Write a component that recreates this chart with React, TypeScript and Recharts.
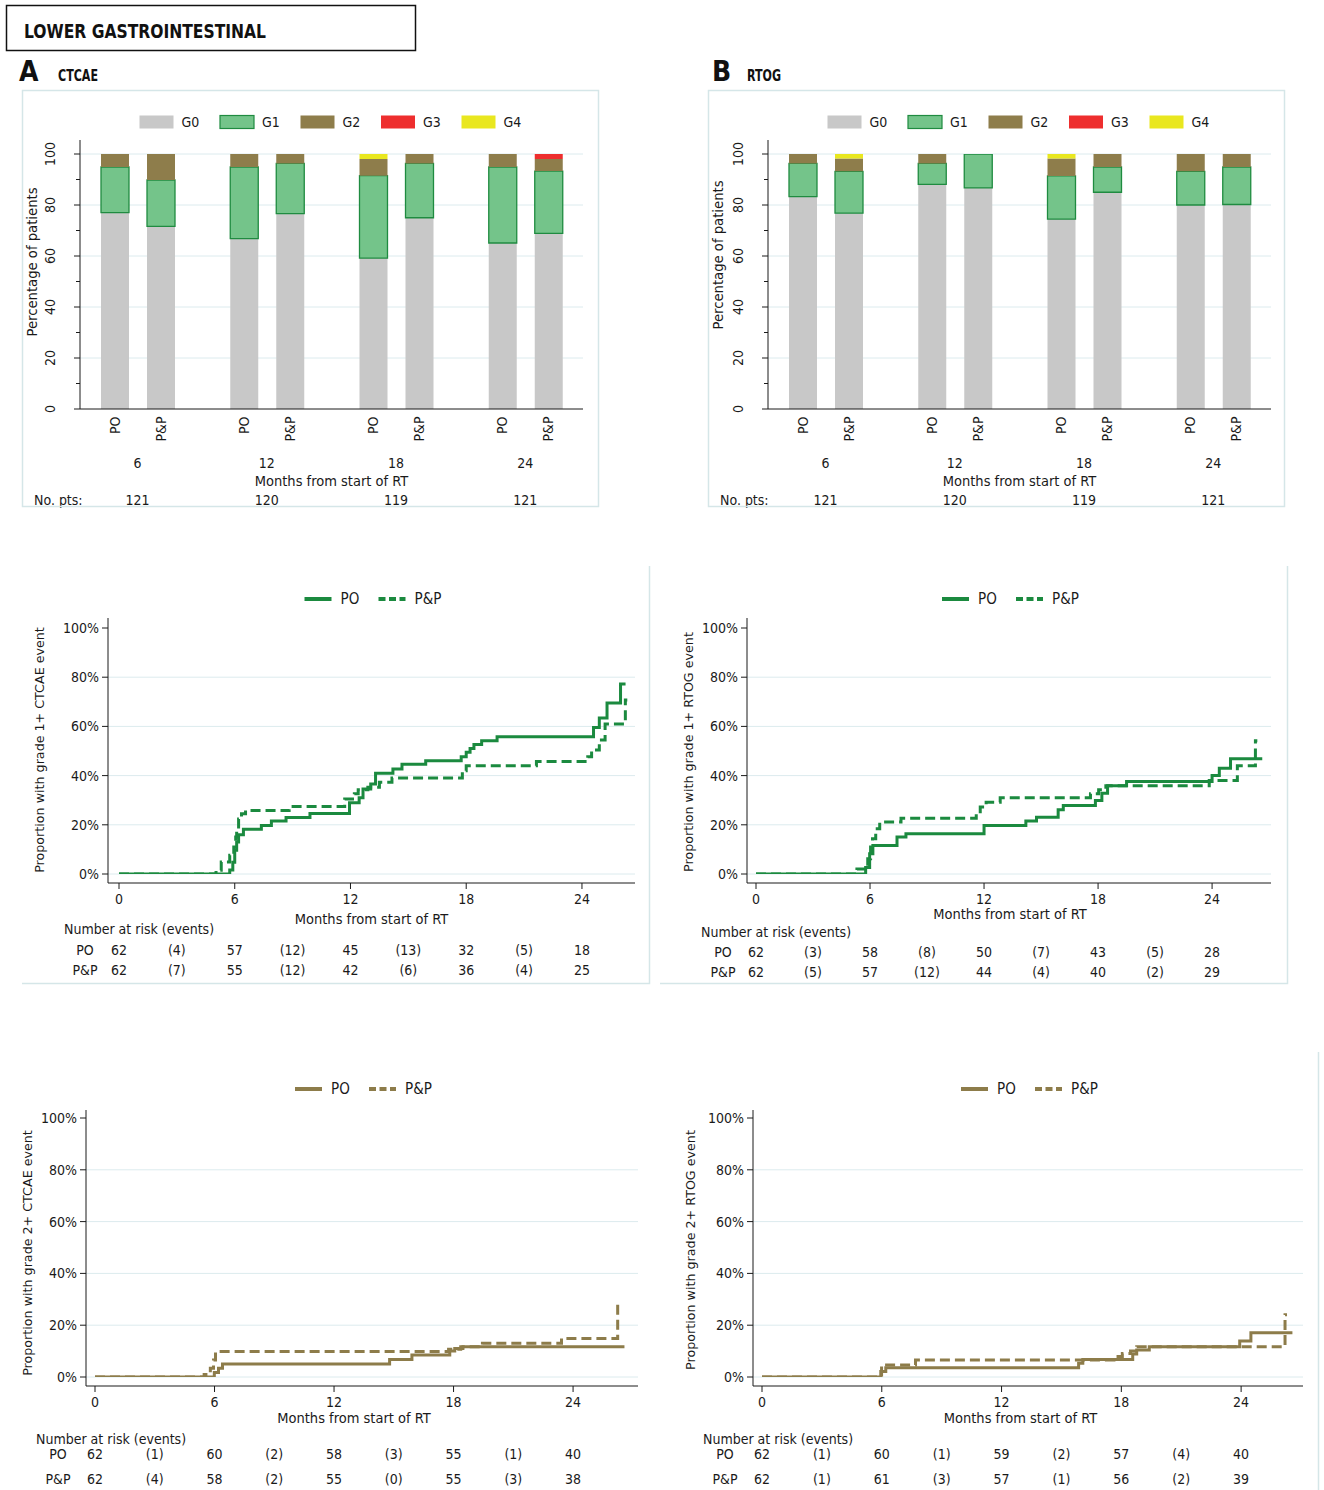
import React from "react";
import { Bar, BarChart, CartesianGrid, Legend, Line, LineChart, XAxis, YAxis } from "recharts";

const COND = '"Liberation Sans Narrow", "DejaVu Sans Condensed", "Arial Narrow", sans-serif';
const PLAIN = '"DejaVu Sans", "Open Sans", sans-serif';
const INK = "#1a1a1a";
const GRID = "#dcebee";
const FRAME = "#d5e6e8";
const GREEN = "#1b8a3f";
const OLIVE = "#8d7c4a";
const G1_EDGE = "#1f8b40";
const GRADE_COLORS = ["#c8c8c8", "#74c48a", "#8e7d4b", "#ee2e2e", "#e9e71f"];

const GRADES = ["G0", "G1", "G2", "G3", "G4"];
const ARMS = ["PO", "P&P"];
const MONTHS = ["6", "12", "18", "24"];
const NO_PTS = [121, 120, 119, 121];

// % of patients by worst grade at each visit
const CTCAE_PO_G0 = [77.0, 66.8, 59.2, 65.1];
const CTCAE_PO_G1 = [17.9, 28.1, 32.3, 29.8];
const CTCAE_PO_G2 = [5.1, 5.1, 6.5, 5.1];
const CTCAE_PO_G3 = [0, 0, 0, 0];
const CTCAE_PO_G4 = [0, 0, 2.0, 0];
const CTCAE_PP_G0 = [71.6, 76.6, 75.0, 68.9];
const CTCAE_PP_G1 = [18.2, 19.7, 21.3, 24.4];
const CTCAE_PP_G2 = [10.2, 3.7, 3.7, 4.7];
const CTCAE_PP_G3 = [0, 0, 0, 2.0];
const CTCAE_PP_G4 = [0, 0, 0, 0];

const RTOG_PO_G0 = [83.3, 88.1, 74.5, 80.0];
const RTOG_PO_G1 = [13.0, 8.2, 16.9, 13.2];
const RTOG_PO_G2 = [3.7, 3.7, 6.8, 6.8];
const RTOG_PO_G3 = [0, 0, 0, 0];
const RTOG_PO_G4 = [0, 0, 1.8, 0];
const RTOG_PP_G0 = [76.8, 86.7, 85.0, 80.2];
const RTOG_PP_G1 = [16.4, 13.3, 9.9, 14.7];
const RTOG_PP_G2 = [5.0, 0, 5.1, 5.1];
const RTOG_PP_G3 = [0, 0, 0, 0];
const RTOG_PP_G4 = [1.8, 0, 0, 0];

type Pt = { t: number; p: number };

// cumulative incidence, grade 1+ CTCAE
const G1_CTCAE_PO: Pt[] = [
  { t: 0, p: 0 }, { t: 5.74, p: 1.6 }, { t: 5.9, p: 4.8 }, { t: 6.0, p: 9.7 }, { t: 6.1, p: 13 },
  { t: 6.2, p: 16 }, { t: 6.45, p: 18.2 }, { t: 7.38, p: 19.7 }, { t: 7.9, p: 21.5 }, { t: 8.66, p: 23 },
  { t: 9.9, p: 24.6 }, { t: 11.95, p: 29 }, { t: 12.45, p: 31 }, { t: 12.65, p: 34.6 }, { t: 13.05, p: 36.6 },
  { t: 13.3, p: 41 }, { t: 14.2, p: 42.7 }, { t: 14.67, p: 44.6 }, { t: 15.9, p: 46 }, { t: 17.74, p: 47.7 },
  { t: 18.0, p: 49.5 }, { t: 18.2, p: 51 }, { t: 18.4, p: 52.6 }, { t: 18.8, p: 54.2 }, { t: 19.6, p: 55.8 },
  { t: 24.6, p: 59.6 }, { t: 24.9, p: 63.4 }, { t: 25.3, p: 69.5 }, { t: 26.0, p: 77.2 }, { t: 26.26, p: 77.2 },
];
const G1_CTCAE_PP: Pt[] = [
  { t: 0, p: 0 }, { t: 5.03, p: 1.5 }, { t: 5.3, p: 4.9 }, { t: 5.74, p: 7.6 }, { t: 5.95, p: 11 },
  { t: 6.05, p: 15 }, { t: 6.1, p: 18.4 }, { t: 6.2, p: 22.4 }, { t: 6.35, p: 24.5 }, { t: 6.56, p: 25.8 },
  { t: 8.82, p: 27.4 }, { t: 11.7, p: 30.5 }, { t: 12.2, p: 32.6 }, { t: 12.4, p: 34.2 }, { t: 12.9, p: 35.3 },
  { t: 13.5, p: 37.3 }, { t: 14.15, p: 39 }, { t: 17.8, p: 42 }, { t: 18.0, p: 44 }, { t: 21.64, p: 45.7 },
  { t: 24.3, p: 47.7 }, { t: 24.5, p: 50.4 }, { t: 24.9, p: 54.5 }, { t: 25.2, p: 61 }, { t: 26.25, p: 70.7 },
  { t: 26.35, p: 70.7 },
];
// grade 1+ RTOG
const G1_RTOG_PO: Pt[] = [
  { t: 0, p: 0 }, { t: 5.77, p: 2.6 }, { t: 5.98, p: 8.2 }, { t: 6.15, p: 11.6 }, { t: 7.42, p: 15 },
  { t: 7.89, p: 16.4 }, { t: 12.0, p: 19.7 }, { t: 14.2, p: 21.5 }, { t: 14.76, p: 23.1 }, { t: 15.9, p: 26.1 },
  { t: 16.17, p: 27.8 }, { t: 17.86, p: 29.9 }, { t: 18.2, p: 32.8 }, { t: 18.5, p: 35.9 }, { t: 19.5, p: 37.6 },
  { t: 24.0, p: 40 }, { t: 24.38, p: 43 }, { t: 24.97, p: 46.8 }, { t: 26.64, p: 46.8 },
];
const G1_RTOG_PP: Pt[] = [
  { t: 0, p: 0 }, { t: 5.31, p: 2 }, { t: 5.88, p: 6.2 }, { t: 6.03, p: 11 }, { t: 6.13, p: 14.3 },
  { t: 6.3, p: 18.4 }, { t: 6.51, p: 21.1 }, { t: 7.63, p: 22.7 }, { t: 11.59, p: 24.5 }, { t: 11.8, p: 27.2 },
  { t: 12.11, p: 29.2 }, { t: 12.85, p: 31 }, { t: 17.6, p: 32.6 }, { t: 18.03, p: 34.2 }, { t: 18.41, p: 35.9 },
  { t: 23.85, p: 38 }, { t: 25.33, p: 44 }, { t: 26.28, p: 54.2 }, { t: 26.38, p: 54.2 },
];
// grade 2+ CTCAE
const G2_CTCAE_PO: Pt[] = [
  { t: 0, p: 0 }, { t: 5.99, p: 1.7 }, { t: 6.2, p: 3.4 }, { t: 6.4, p: 5.0 }, { t: 14.79, p: 6.8 },
  { t: 15.91, p: 8.5 }, { t: 17.81, p: 10 }, { t: 18.06, p: 11 }, { t: 18.47, p: 11.7 }, { t: 26.58, p: 11.7 },
];
const G2_CTCAE_PP: Pt[] = [
  { t: 0, p: 0 }, { t: 5.48, p: 1 }, { t: 5.79, p: 3.4 }, { t: 5.95, p: 6.6 }, { t: 6.05, p: 9.8 },
  { t: 17.75, p: 10.7 }, { t: 18.36, p: 11.7 }, { t: 19.45, p: 13 }, { t: 23.42, p: 14.9 }, { t: 26.24, p: 28.5 },
  { t: 26.34, p: 28.5 },
];
// grade 2+ RTOG
const G2_RTOG_PO: Pt[] = [
  { t: 0, p: 0 }, { t: 5.95, p: 2.1 }, { t: 6.2, p: 3.6 }, { t: 15.86, p: 5.3 }, { t: 16.07, p: 6.8 },
  { t: 18.57, p: 8.9 }, { t: 18.77, p: 10.4 }, { t: 19.4, p: 11.7 }, { t: 23.93, p: 13.9 }, { t: 24.49, p: 17.1 },
  { t: 26.57, p: 17.1 },
];
const G2_RTOG_PP: Pt[] = [
  { t: 0, p: 0 }, { t: 5.99, p: 4.6 }, { t: 7.69, p: 6.6 }, { t: 17.63, p: 7.9 }, { t: 18.05, p: 9.1 },
  { t: 18.46, p: 10 }, { t: 18.77, p: 11.7 }, { t: 26.2, p: 24 }, { t: 26.3, p: 24 },
];

// number at risk at 0/6/12/18/24 months, events in between
const G1_CTCAE_RISK = [[62, 57, 45, 32, 18], [62, 55, 42, 36, 25]];
const G1_CTCAE_EVENTS = [[4, 12, 13, 5], [7, 12, 6, 4]];
const G1_RTOG_RISK = [[62, 58, 50, 43, 28], [62, 57, 44, 40, 29]];
const G1_RTOG_EVENTS = [[3, 8, 7, 5], [5, 12, 4, 2]];
const G2_CTCAE_RISK = [[62, 60, 58, 55, 40], [62, 58, 55, 55, 38]];
const G2_CTCAE_EVENTS = [[1, 2, 3, 1], [4, 2, 0, 3]];
const G2_RTOG_RISK = [[62, 60, 59, 57, 40], [62, 61, 57, 56, 39]];
const G2_RTOG_EVENTS = [[1, 1, 2, 4], [1, 3, 1, 2]];

const KM_TICKS = [0, 6, 12, 18, 24];
const RISK_TICKS = [0, 3, 6, 9, 12, 15, 18, 21, 24];
const PCT_TICKS = [0, 20, 40, 60, 80, 100];
const BAR_Y_TICKS = [0, 10, 20, 30, 40, 50, 60, 70, 80, 90, 100];

function buildGradeRows(po: number[][], pp: number[][]) {
  return MONTHS.map((month, i) => {
    const row: Record<string, string | number> = { month };
    GRADES.forEach((g, k) => {
      row[`po${g}`] = po[k][i];
      row[`pp${g}`] = pp[k][i];
    });
    return row;
  });
}

const CTCAE_ROWS = buildGradeRows(
  [CTCAE_PO_G0, CTCAE_PO_G1, CTCAE_PO_G2, CTCAE_PO_G3, CTCAE_PO_G4],
  [CTCAE_PP_G0, CTCAE_PP_G1, CTCAE_PP_G2, CTCAE_PP_G3, CTCAE_PP_G4]
);
const RTOG_ROWS = buildGradeRows(
  [RTOG_PO_G0, RTOG_PO_G1, RTOG_PO_G2, RTOG_PO_G3, RTOG_PO_G4],
  [RTOG_PP_G0, RTOG_PP_G1, RTOG_PP_G2, RTOG_PP_G3, RTOG_PP_G4]
);

const BAR_W = 576;
const BAR_H = 432;
const BAR_AXIS_H = 113;

function GradeLegend({ cx }: { cx: number }) {
  return (
    <svg width={BAR_W} height={45}>
      {GRADES.map((g, k) => {
        const x = cx - 192 + k * 80.5;
        return (
          <g key={g}>
            <rect x={x} y={25.5} width={34} height={13} fill={GRADE_COLORS[k]}
              stroke={k === 1 ? G1_EDGE : "none"} strokeWidth={1.2} />
            <text x={x + 42} y={32} dominantBaseline="central" fontFamily={COND} fontSize={14} fill={INK}>{g}</text>
          </g>
        );
      })}
    </svg>
  );
}

function VisitTick(props: any) {
  const { x, y, index, payload } = props;
  return (
    <g fontFamily={COND} fontSize={14} fill={INK}>
      {ARMS.map((arm, k) => (
        <text key={arm} transform={`translate(${x + (k ? 23 : -23)},${y + 7.5}) rotate(-90)`}
          textAnchor="end" dominantBaseline="central">{arm}</text>
      ))}
      <text x={x} y={y + 54} textAnchor="middle" dominantBaseline="central">{payload.value}</text>
      <text x={x} y={y + 91} textAnchor="middle" dominantBaseline="central">{NO_PTS[index]}</text>
    </g>
  );
}

function PctTick(props: any) {
  const { x, y, payload } = props;
  const major = payload.value % 20 === 0;
  return (
    <g>
      <line x1={x - (major ? 6 : 4)} x2={x} y1={y} y2={y} stroke={INK} />
      {major && (
        <text transform={`translate(${x - 30},${y}) rotate(-90)`} textAnchor="middle" dominantBaseline="central"
          fontFamily={COND} fontSize={14} fill={INK}>{payload.value}</text>
      )}
    </g>
  );
}

function rotTitle(text: string, cx: number, cy: number, size: number) {
  return {
    content: () => (
      <text x={cx} y={cy} transform={`rotate(-90 ${cx} ${cy})`} textAnchor="middle" dominantBaseline="central"
        fontFamily={PLAIN} fontSize={size} fill={INK}>{text}</text>
    ),
  };
}

function GradePanel({ rows, yW, mRight, titleCy }: { rows: any[]; yW: number; mRight: number; titleCy: number }) {
  const plotCx = (yW + BAR_W - mRight) / 2;
  const axisY = BAR_H - BAR_AXIS_H;
  return (
    <BarChart width={BAR_W} height={BAR_H} data={rows} margin={{ top: 50, right: mRight, bottom: 0, left: 0 }}
      barSize={28} barGap={18}>
      <CartesianGrid vertical={false} stroke={GRID} horizontalValues={[20, 40, 60, 80, 100]} />
      <Legend layout="horizontal" verticalAlign="middle" align="center"
        wrapperStyle={{ left: 0, top: 0, width: BAR_W, height: 45 }}
        content={() => <GradeLegend cx={plotCx} />} />
      <XAxis dataKey="month" height={BAR_AXIS_H} interval={0} padding={{ left: -7, right: -7 }} stroke={INK}
        tickLine={false} tickSize={0} tickMargin={0} tick={(p: any) => <VisitTick {...p} />}
        label={{
          content: () => (
            <g fontFamily={COND} fontSize={14.5} fill={INK}>
              <text x={plotCx} y={axisY + 72} textAnchor="middle" dominantBaseline="central">Months from start of RT</text>
              <text x={12} y={axisY + 91} fontSize={14} dominantBaseline="central">No. pts:</text>
            </g>
          ),
        }} />
      <YAxis width={yW} domain={[0, 100]} allowDataOverflow ticks={BAR_Y_TICKS} interval={0} padding={{ top: 14 }}
        stroke={INK} tickLine={false} tickSize={0} tickMargin={0} tick={(p: any) => <PctTick {...p} />}
        label={rotTitle("Percentage of patients", 10, titleCy, 13.2)} />
      {GRADES.map((g, k) => (
        <Bar key={`po${g}`} dataKey={`po${g}`} stackId="po" fill={GRADE_COLORS[k]}
          stroke={k === 1 ? G1_EDGE : "none"} strokeWidth={k === 1 ? 1.3 : 0} isAnimationActive={false} />
      ))}
      {GRADES.map((g, k) => (
        <Bar key={`pp${g}`} dataKey={`pp${g}`} stackId="pp" fill={GRADE_COLORS[k]}
          stroke={k === 1 ? G1_EDGE : "none"} strokeWidth={k === 1 ? 1.3 : 0} isAnimationActive={false} />
      ))}
    </BarChart>
  );
}

type KMCfg = {
  width: number; height: number; mTop: number; mRight: number; yW: number;
  padL: number; padT: number; padB: number; xMax: number; axisH: number; riskH: number;
  legendCy: number; titleCx: number; titleCy: number; xTitleDx: number; xTitleDy: number;
  riskDy: number[]; headerDx: number; labelDx: number;
};

function ArmLegend({ cx, cy, color, width }: { cx: number; cy: number; color: string; width: number }) {
  return (
    <svg width={width} height={cy * 2}>
      <line x1={cx - 67} x2={cx - 40} y1={cy} y2={cy} stroke={color} strokeWidth={4} />
      <text x={cx - 31} y={cy} dominantBaseline="central" fontFamily={COND} fontSize={15} fill={INK}>{ARMS[0]}</text>
      <line x1={cx + 7} x2={cx + 34} y1={cy} y2={cy} stroke={color} strokeWidth={4} strokeDasharray="7 3.5" />
      <text x={cx + 43} y={cy} dominantBaseline="central" fontFamily={COND} fontSize={15} fill={INK}>{ARMS[1]}</text>
    </svg>
  );
}

function RiskTick(props: any) {
  const { x, y, index, cfg, counts, events } = props;
  const atTick = index % 2 === 0;
  const k = atTick ? index / 2 : (index - 1) / 2;
  return (
    <g fontFamily={COND} fontSize={14} fill={INK}>
      {index === 0 && (
        <>
          <text x={x + cfg.headerDx} y={y + cfg.riskDy[0]} dominantBaseline="central">Number at risk (events)</text>
          {ARMS.map((arm, r) => (
            <text key={arm} x={x + cfg.labelDx} y={y + cfg.riskDy[r + 1]} textAnchor="middle" dominantBaseline="central">{arm}</text>
          ))}
        </>
      )}
      {ARMS.map((arm, r) => (
        <text key={`v${arm}`} x={x} y={y + cfg.riskDy[r + 1]} textAnchor="middle" dominantBaseline="central">
          {atTick ? counts[r][k] : `(${events[r][k]})`}
        </text>
      ))}
    </g>
  );
}

function KMPanel({ cfg, po, pp, color, title, counts, events }: {
  cfg: KMCfg; po: Pt[]; pp: Pt[]; color: string; title: string; counts: number[][]; events: number[][];
}) {
  const plotCx = (cfg.yW + cfg.width - cfg.mRight) / 2;
  const axisY = cfg.height - cfg.axisH - cfg.riskH;
  const tickStyle = { fill: INK, fontSize: 14, fontFamily: COND };
  return (
    <LineChart width={cfg.width} height={cfg.height} margin={{ top: cfg.mTop, right: cfg.mRight, bottom: 0, left: 0 }}>
      <CartesianGrid vertical={false} stroke={GRID} horizontalValues={[0, 20, 40, 60, 80]} />
      <Legend layout="horizontal" verticalAlign="middle" align="center"
        wrapperStyle={{ left: 0, top: 0, width: cfg.width, height: cfg.legendCy * 2 }}
        content={() => <ArmLegend cx={plotCx} cy={cfg.legendCy} color={color} width={cfg.width} />} />
      <XAxis type="number" dataKey="t" domain={[0, cfg.xMax]} allowDataOverflow ticks={KM_TICKS} interval={0}
        padding={{ left: cfg.padL, right: 0 }} height={cfg.axisH} stroke={INK} tickSize={6} tickMargin={5}
        tick={tickStyle}
        label={{
          content: () => (
            <text x={plotCx + cfg.xTitleDx} y={axisY + cfg.xTitleDy} textAnchor="middle" dominantBaseline="central"
              fontFamily={COND} fontSize={14.5} fill={INK}>Months from start of RT</text>
          ),
        }} />
      <XAxis xAxisId="risk" type="number" dataKey="t" domain={[0, cfg.xMax]} allowDataOverflow ticks={RISK_TICKS}
        interval={0} padding={{ left: cfg.padL, right: 0 }} height={cfg.riskH} axisLine={false} tickLine={false}
        tickSize={0} tickMargin={0}
        tick={(p: any) => <RiskTick {...p} cfg={cfg} counts={counts} events={events} />} />
      <YAxis type="number" domain={[0, 100]} allowDataOverflow ticks={PCT_TICKS} interval={0}
        padding={{ top: cfg.padT, bottom: cfg.padB }} width={cfg.yW} stroke={INK} tickSize={6} tickMargin={3}
        tick={tickStyle} tickFormatter={(v: number) => `${v}%`}
        label={rotTitle(title, cfg.titleCx, cfg.titleCy, 12.7)} />
      <Line data={po} dataKey="p" type="stepAfter" stroke={color} strokeWidth={3} dot={false}
        activeDot={false} isAnimationActive={false} />
      <Line data={pp} dataKey="p" type="stepAfter" stroke={color} strokeWidth={3} strokeDasharray="10 5"
        dot={false} activeDot={false} isAnimationActive={false} />
    </LineChart>
  );
}

const CFG_G1_CTCAE: KMCfg = {
  width: 627, height: 405, mTop: 38, mRight: 14, yW: 86, padL: 11, padT: 10, padB: 9, xMax: 26.75,
  axisH: 42, riskH: 60, legendCy: 19, titleCx: 17, titleCy: 170, xTitleDx: 0, xTitleDy: 36,
  riskDy: [4, 25, 45], headerDx: -55, labelDx: -34,
};
const CFG_G1_RTOG: KMCfg = {
  width: 632, height: 405, mTop: 38, mRight: 16, yW: 92, padL: 9, padT: 10, padB: 9, xMax: 27.1,
  axisH: 36, riskH: 66, legendCy: 19, titleCx: 33, titleCy: 172, xTitleDx: 1, xTitleDy: 31,
  riskDy: [13, 33, 53], headerDx: -55, labelDx: -33,
};
const CFG_G2_CTCAE: KMCfg = {
  width: 635, height: 415, mTop: 35, mRight: 7, yW: 76, padL: 9, padT: 8, padB: 9, xMax: 27.26,
  axisH: 38, riskH: 66, legendCy: 14, titleCx: 17, titleCy: 178, xTitleDx: -8, xTitleDy: 32,
  riskDy: [15, 30, 55], headerDx: -59, labelDx: -37,
};
const CFG_G2_RTOG: KMCfg = {
  width: 640, height: 415, mTop: 35, mRight: 7, yW: 83, padL: 9, padT: 8, padB: 9, xMax: 27.1,
  axisH: 38, riskH: 66, legendCy: 14, titleCx: 20, titleCy: 175, xTitleDx: -7.5, xTitleDy: 32,
  riskDy: [15, 30, 55], headerDx: -59, labelDx: -37,
};

const abs = (left: number, top: number): React.CSSProperties => ({ position: "absolute", left, top });

export default function App() {
  return (
    <div style={{ position: "relative", width: 1324, height: 1490, background: "#fff", overflow: "hidden" }}>
      <style>{"body{margin:0}"}</style>

      <div style={abs(22, 90)}>
        <GradePanel rows={CTCAE_ROWS} yW={58} mRight={15} titleCy={172} />
      </div>
      <div style={abs(708, 90)}>
        <GradePanel rows={RTOG_ROWS} yW={60} mRight={13} titleCy={165} />
      </div>

      <div style={abs(22, 580)}>
        <KMPanel cfg={CFG_G1_CTCAE} po={G1_CTCAE_PO} pp={G1_CTCAE_PP} color={GREEN}
          title="Proportion with grade 1+ CTCAE event" counts={G1_CTCAE_RISK} events={G1_CTCAE_EVENTS} />
      </div>
      <div style={abs(655, 580)}>
        <KMPanel cfg={CFG_G1_RTOG} po={G1_RTOG_PO} pp={G1_RTOG_PP} color={GREEN}
          title="Proportion with grade 1+ RTOG event" counts={G1_RTOG_RISK} events={G1_RTOG_EVENTS} />
      </div>
      <div style={abs(10, 1075)}>
        <KMPanel cfg={CFG_G2_CTCAE} po={G2_CTCAE_PO} pp={G2_CTCAE_PP} color={OLIVE}
          title="Proportion with grade 2+ CTCAE event" counts={G2_CTCAE_RISK} events={G2_CTCAE_EVENTS} />
      </div>
      <div style={abs(670, 1075)}>
        <KMPanel cfg={CFG_G2_RTOG} po={G2_RTOG_PO} pp={G2_RTOG_PP} color={OLIVE}
          title="Proportion with grade 2+ RTOG event" counts={G2_RTOG_RISK} events={G2_RTOG_EVENTS} />
      </div>

      <svg width={1324} height={1490} style={{ position: "absolute", left: 0, top: 0, pointerEvents: "none" }}>
        <rect x={6.5} y={5.5} width={409} height={45} fill="none" stroke="#111" strokeWidth={1.5} />
        <text x={24} y={37.5} fontFamily={COND} fontWeight="bold" fontSize={20} fill="#111"
          textLength={242} lengthAdjust="spacingAndGlyphs">LOWER GASTROINTESTINAL</text>
        <text x={19} y={80.5} fontFamily={COND} fontWeight="bold" fontSize={28} fill="#111">A</text>
        <text x={58} y={81} fontFamily={COND} fontWeight="bold" fontSize={15} fill="#111"
          textLength={40} lengthAdjust="spacingAndGlyphs">CTCAE</text>
        <text x={712} y={80.5} fontFamily={COND} fontWeight="bold" fontSize={28} fill="#111">B</text>
        <text x={747} y={81} fontFamily={COND} fontWeight="bold" fontSize={15} fill="#111"
          textLength={34} lengthAdjust="spacingAndGlyphs">RTOG</text>
        <g fill="none" stroke={FRAME} strokeWidth={1.5}>
          <rect x={22.5} y={90.5} width={576} height={416} />
          <rect x={708.5} y={90.5} width={576} height={416} />
          <polyline points="22,983.5 649.5,983.5 649.5,566" />
          <polyline points="660,983.5 1287.5,983.5 1287.5,566" />
          <line x1={1318.5} x2={1318.5} y1={1052} y2={1490} />
        </g>
      </svg>
    </div>
  );
}
